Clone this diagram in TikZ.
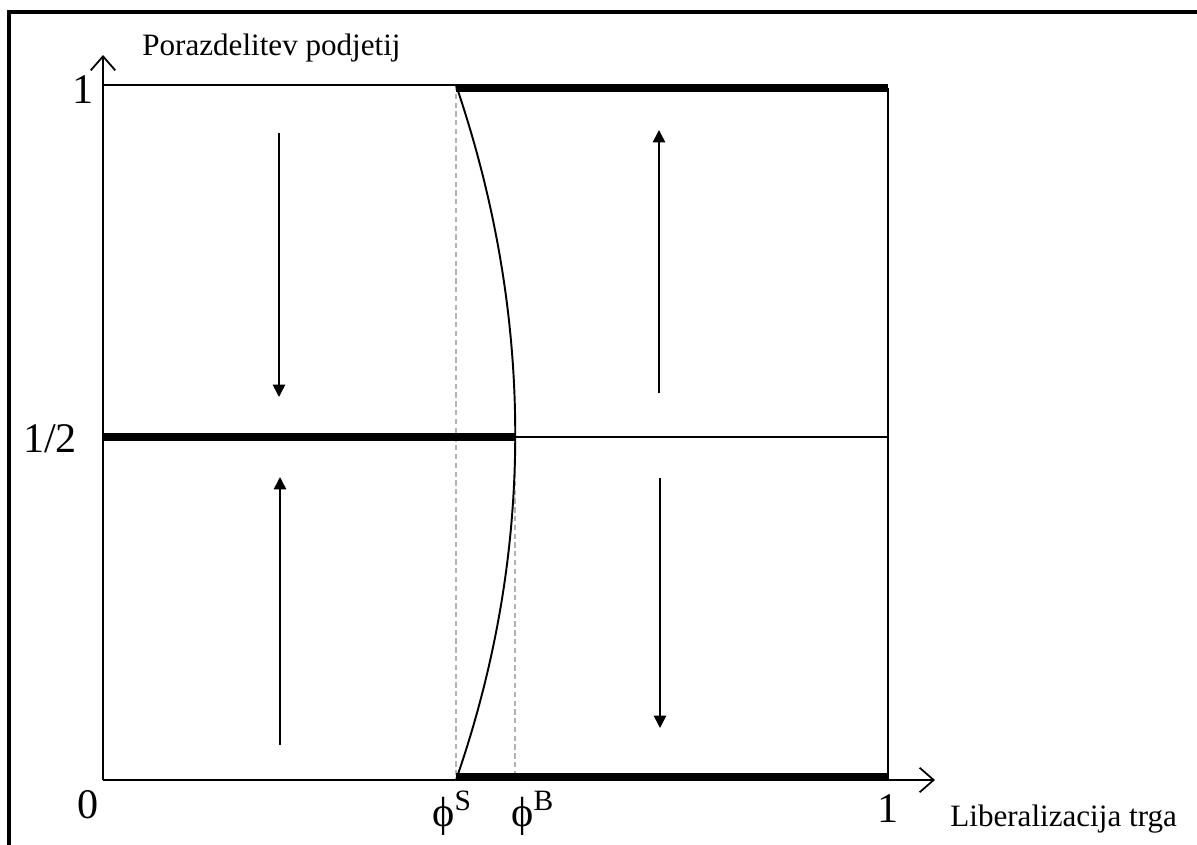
\documentclass[tikz,border=0pt]{standalone}
\usepackage{fontspec}
\setmainfont{Liberation Serif}
\usetikzlibrary{arrows.meta}
\begin{document}
\begin{tikzpicture}[x=0.02cm,y=-0.02cm,
  thinline/.style={line width=1pt},
  thickline/.style={line width=5pt},
  guide/.style={gray!60, line width=0.6pt, dash pattern=on 3pt off 2pt},
  flow/.style={line width=0.9pt, -{Triangle[length=7pt,width=7pt]}},
  axis/.style={line width=1pt, -{Straight Barb[length=8pt,width=14pt]}},
  num/.style={font=\fontsize{24}{27}\selectfont, inner sep=0pt},
  lbl/.style={font=\fontsize{17.7}{20}\selectfont, inner sep=0pt}]
\useasboundingbox (0,0) rectangle (1197,845);
\begin{scope}
\clip (0,0) rectangle (1197,845);
\draw[line width=1.8pt] (9,12) rectangle (1220,870);
\end{scope}
% key points
\coordinate (O) at (103,780);
\coordinate (ytip) at (103,55);
\coordinate (xtip) at (935,780);
\coordinate (Stop) at (456,85);
\coordinate (Sbot) at (456,780);
\coordinate (Bmid) at (515,437);
\coordinate (Bbot) at (515,780);
\coordinate (Ltop) at (103,85);
\coordinate (Lmid) at (103,437);
\coordinate (Rtop) at (888,88);
\coordinate (Rmid) at (888,437);
\coordinate (Rbot) at (888,780);
\coordinate (Ttop) at (456,88);
\coordinate (Tbot) at (456,777);
\coordinate (Rbotk) at (888,777);
\coordinate (c1) at (535,317);
\coordinate (c2) at (535,553);
% guides
\draw[guide] (Stop) -- (Sbot);
\draw[guide] (Bmid) -- (Bbot);
% axes
\draw[axis] (O) -- (ytip);
\draw[axis] (O) -- (xtip);
% thin lines
\draw[thinline] (Ltop) -- (Stop);
\draw[thinline] (Rtop) -- (Rbot);
\draw[thinline] (Bmid) -- (Rmid);
% thick lines
\draw[thickline] (Ttop) -- (Rtop);
\draw[thickline] (Lmid) -- (Bmid);
\draw[thickline] (Tbot) -- (Rbotk);
% curve
\draw[line width=1.1pt] (Stop) .. controls (c1) and (c2) .. (Sbot);
% flow arrows
\coordinate (a1s) at (279,133); \coordinate (a1e) at (279,397);
\coordinate (a2s) at (280,745); \coordinate (a2e) at (280,477);
\coordinate (a3s) at (659,393); \coordinate (a3e) at (659,130);
\coordinate (a4s) at (660,478); \coordinate (a4e) at (660,728);
\draw[flow] (a1s) -- (a1e);
\draw[flow] (a2s) -- (a2e);
\draw[flow] (a3s) -- (a3e);
\draw[flow] (a4s) -- (a4e);
% labels
\node[num] (one) at (83,90) {1};
\node[num] (half) at (50,439) {1/2};
\node[num] (zero) at (88,805) {0};
\node[num] (onex) at (888,809) {1};
\node[num, anchor=west] (phiS) at (432,813) {ϕ\textsuperscript{S}};
\node[num, anchor=west] (phiB) at (511,813) {ϕ\textsuperscript{B}};
\node[lbl, anchor=base west] (ylab) at (142,55) {Porazdelitev podjetij};
\node[lbl, anchor=base west] (xlab) at (950,826) {Liberalizacija trga};
\end{tikzpicture}
\end{document}
